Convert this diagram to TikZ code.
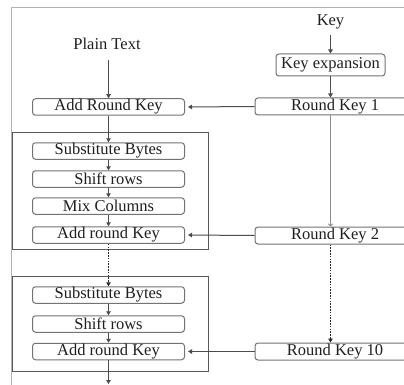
\documentclass[tikz,border=0pt]{standalone}
\usepackage{fontspec}
\setmainfont{Liberation Serif}
\usetikzlibrary{arrows.meta}
\begin{document}
\begin{tikzpicture}[x=1pt,y=-1pt,
  txt/.style={text=black!88, font=\fontsize{16.5}{17}\selectfont, inner sep=0pt},
  stepbox/.style={txt, draw=black!55, line width=1pt, rounded corners=3pt,
    minimum width=152pt, minimum height=16.5pt},
  keybox/.style={txt, draw=black!55, line width=1pt, rounded corners=3pt,
    minimum width=160pt, minimum height=17pt},
  frm/.style={draw=black!65, line width=1pt},
  arr/.style={draw=black!70, line width=1pt, -{Triangle[width=4.5pt,length=4pt]}},
  darr/.style={arr, dash pattern=on 1.6pt off 1.2pt, draw=black!85, line width=1.6pt},
  varr/.style={draw=black!45, line width=1pt, -{To[width=5pt,length=3pt]}}]
\clip (0,0) rectangle (404,385);
\useasboundingbox (0,0) rectangle (404,385);
\fill[white] (0,0) rectangle (404,385);
% outer frame
\draw[black!30, line width=1pt] (11.5,385) -- (11.5,8) -- (404,8);
% round frames
\draw[frm] (12,133) rectangle (208,249);
\draw[frm] (12,276) rectangle (208,371);
% nodes
\node[txt] (key) at (330.5,22) {Key};
\node[txt, draw=black!55, line width=1pt, rounded corners=3pt, minimum width=109pt, minimum height=22pt] (kexp) at (330.5,65) {Key expansion};
\node[txt] (plain) at (107,44) {Plain Text};
\node[stepbox] (ark0) at (108.5,107) {Add Round Key};
\node[keybox] (rk1) at (335,106.5) {Round Key 1};
\node[stepbox] (sb1) at (108.5,151) {Substitute Bytes};
\node[stepbox] (sr1) at (108.5,179) {Shift rows};
\node[stepbox] (mc1) at (108.5,206) {Mix Columns};
\node[stepbox] (ar1) at (108.5,235) {Add round Key};
\node[keybox] (rk2) at (335,235.5) {Round Key 2};
\node[stepbox] (sb2) at (108.5,295) {Substitute Bytes};
\node[stepbox] (sr2) at (108.5,324) {Shift rows};
\node[stepbox] (ar2) at (108.5,351.5) {Add round Key};
\node[keybox] (rk10) at (335,351.5) {Round Key 10};
\coordinate (endc) at (108.5,385);
% connectors
\draw[arr, shorten <=6pt] (key.south) -- (kexp.north);
\draw[arr] (kexp.south) -- (rk1.north -| kexp.south);
\draw[arr, shorten <=10pt] (plain.south -| ark0.north) -- (ark0.north);
\draw[arr, shorten >=3pt] (rk1.west) -- (ark0.east);
\draw[arr] (ark0.south) -- (sb1.north);
\draw[arr] (sb1.south) -- (sr1.north);
\draw[arr] (sr1.south) -- (mc1.north);
\draw[arr] (mc1.south) -- (ar1.north);
\draw[varr] (rk1.south -| kexp.south) -- (rk2.north -| kexp.south);
\draw[arr, shorten >=3pt] (rk2.west) -- (ar1.east);
\draw[darr] (ar1.south) -- (sb2.north);
\draw[darr] (rk2.south -| kexp.south) -- (rk10.north -| kexp.south);
\draw[arr] (sb2.south) -- (sr2.north);
\draw[arr] (sr2.south) -- (ar2.north);
\draw[arr, shorten >=3pt] (rk10.west) -- (ar2.east);
\draw[arr, shorten >=1pt] (ar2.south) -- (endc);
\end{tikzpicture}
\end{document}
